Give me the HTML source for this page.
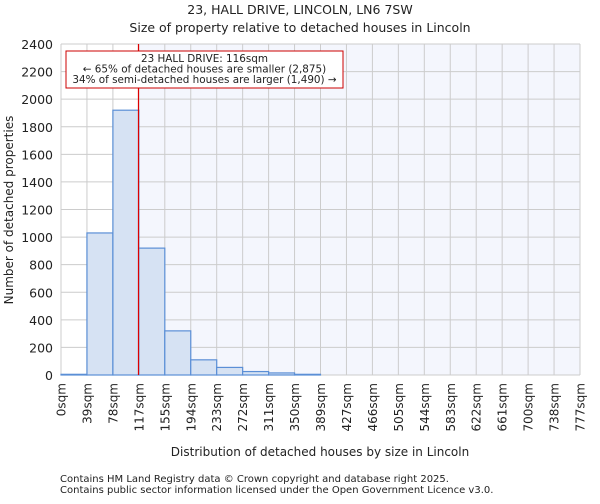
<!DOCTYPE html>
<html><head><meta charset="utf-8"><style>
body{margin:0;background:#fff;font-family:"DejaVu Sans","Liberation Sans",sans-serif}
svg text{font-family:"DejaVu Sans","Liberation Sans",sans-serif;fill:#222}
</style></head><body>
<svg id="c" width="600" height="500" xmlns="http://www.w3.org/2000/svg">
<text x="300" y="14" font-size="12.5" text-anchor="middle">23, HALL DRIVE, LINCOLN, LN6 7SW</text>
<text x="300" y="32" font-size="12.5" text-anchor="middle">Size of property relative to detached houses in Lincoln</text>
<g id="plot"></g>
<text x="320" y="456" font-size="12" text-anchor="middle">Distribution of detached houses by size in Lincoln</text>
<text transform="translate(13,210) rotate(-90)" font-size="12" text-anchor="middle">Number of detached properties</text>
<text x="60" y="482" font-size="10">Contains HM Land Registry data © Crown copyright and database right 2025.</text>
<text x="60" y="493" font-size="10">Contains public sector information licensed under the Open Government Licence v3.0.</text>
</svg>
<script>
const categories=["0sqm","39sqm","78sqm","117sqm","155sqm","194sqm","233sqm","272sqm","311sqm","350sqm","389sqm","427sqm","466sqm","505sqm","544sqm","583sqm","622sqm","661sqm","700sqm","738sqm","777sqm"];
const counts=[5,1030,1920,920,320,110,55,25,15,5,0,0,0,0,0,0,0,0,0,0];
const yTicks=[0,200,400,600,800,1000,1200,1400,1600,1800,2000,2200,2400];
const propertySize=116;
const binWidthSqm=38.85;
const NS="http://www.w3.org/2000/svg";
const X0=61,X1=580,Y0=375,Y1=44,yMax=2400;
const nb=counts.length,bw=(X1-X0)/nb;
const xs=v=>X0+v/(binWidthSqm*nb)*(X1-X0);
const ys=v=>Y0-v/yMax*(Y0-Y1);
const g=document.getElementById('plot');
function mk(t,a){const e=document.createElementNS(NS,t);for(const k in a)e.setAttribute(k,a[k]);g.appendChild(e);return e;}
const mx=xs(propertySize);
let e=mk('rect',{x:mx,y:Y1,width:X1-mx,height:Y0-Y1,fill:'#f4f6fd'});


yTicks.forEach(t=>{const l=mk('line',{x1:X0,x2:X1,y1:ys(t),y2:ys(t),stroke:'#ccc','stroke-width':1});


const tx=mk('text',{x:X0-8,y:ys(t)+5,'font-size':12.5,'text-anchor':'end'});tx.textContent=t;

});
categories.forEach((c,i)=>{const x=X0+i*bw;const l=mk('line',{x1:x,x2:x,y1:Y1,y2:Y0,stroke:'#ccc','stroke-width':1});


const tx=mk('text',{transform:`translate(${x+4.5},${Y0+8}) rotate(-90)`,'font-size':12,'text-anchor':'end'});tx.textContent=c;

});
counts.forEach((v,i)=>{const x=X0+i*bw;const r=mk('rect',{x:x,y:ys(v),width:bw,height:Y0-ys(v),fill:'#d6e2f3',stroke:'#5b8fd6','stroke-width':1.2});

});
e=mk('line',{x1:mx,x2:mx,y1:Y1,y2:Y0,stroke:'#d00','stroke-width':1.2});


e=mk('rect',{x:66,y:51,width:277,height:37,fill:'#fff',stroke:'#c00','stroke-width':1});


["23 HALL DRIVE: 116sqm","← 65% of detached houses are smaller (2,875)","34% of semi-detached houses are larger (1,490) →"].forEach((s,i)=>{
const t=mk('text',{x:204.5,y:62+i*10.5,'font-size':10.4,'text-anchor':'middle'});t.textContent=s;

});
</script>
</body></html>
